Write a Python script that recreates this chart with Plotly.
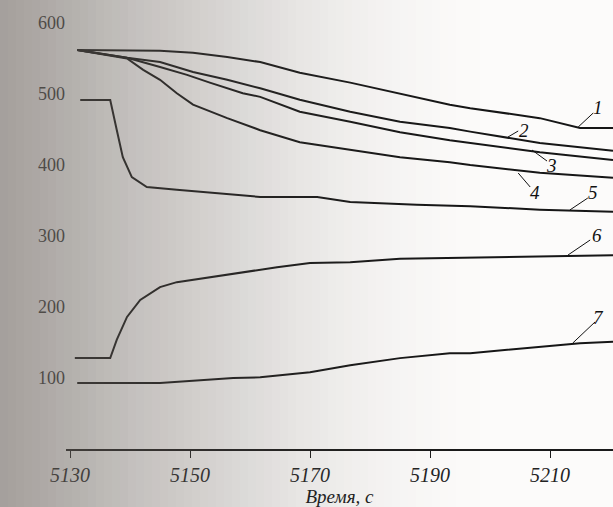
import plotly.graph_objects as go

# ---- data (time, s ; signal value) ----
t1 = [5131.2, 5139.5, 5145.0, 5150.5, 5156.2, 5161.7, 5168.3, 5176.7, 5185.0, 5193.3, 5196.7, 5208.3, 5215.0, 5220.5]
v1 = [562, 562, 561, 558, 552, 545, 530, 516, 501, 485, 480, 466, 452, 452]

t2 = [5131.2, 5139.5, 5145.0, 5150.5, 5156.2, 5161.7, 5168.3, 5176.7, 5185.0, 5193.3, 5196.7, 5208.3, 5220.5]
v2 = [562, 551, 545, 531, 520, 508, 492, 475, 461, 452, 447, 431, 420]

t3 = [5131.2, 5139.5, 5145.0, 5149.5, 5153.3, 5158.8, 5161.7, 5168.3, 5176.7, 5185.0, 5193.3, 5196.7, 5208.3, 5220.5]
v3 = [562, 551, 538, 527, 516, 501, 496, 475, 461, 446, 435, 431, 418, 407]

t4 = [5131.2, 5139.5, 5142.2, 5145.0, 5147.8, 5150.5, 5156.2, 5161.7, 5168.3, 5176.7, 5185.0, 5193.3, 5196.7, 5208.3, 5220.5]
v4 = [562, 550, 534, 520, 501, 485, 466, 449, 432, 421, 411, 404, 400, 389, 382]

t5 = [5131.7, 5136.7, 5137.8, 5138.8, 5140.3, 5142.8, 5147.8, 5153.3, 5161.7, 5171.2, 5176.7, 5187.8, 5196.7, 5208.3, 5220.5]
v5 = [491.5, 491.5, 449, 411, 383, 369, 365, 361, 355, 355, 348, 344, 342, 337, 334]

t6 = [5130.8, 5136.7, 5137.8, 5139.5, 5141.7, 5145.0, 5147.8, 5153.3, 5158.8, 5164.5, 5170.0, 5176.7, 5185.0, 5193.3, 5196.7, 5220.5]
v6 = [128, 128, 154, 186, 210, 228, 235, 242, 249, 256, 262, 263, 268, 269, 270, 273]

t7 = [5131.2, 5145.0, 5157.2, 5161.7, 5170.0, 5176.7, 5185.0, 5193.3, 5196.7, 5208.3, 5215.0, 5220.5]
v7 = [93, 93, 100, 101, 108, 118, 128, 135, 135, 144, 149, 151]

series_t = [t1, t2, t3, t4, t5, t6, t7]
series_v = [v1, v2, v3, v4, v5, v6, v7]

curve_labels = ["1", "2", "3", "4", "5", "6", "7"]
label_t = [5218.0, 5205.7, 5210.3, 5207.5, 5217.2, 5217.8, 5218.0]
label_v = [481.7, 449.3, 400.0, 360.6, 360.6, 301.4, 185.9]
leader_t0 = [5214.7, 5203.0, 5207.0, 5204.7, 5213.3, 5213.0, 5213.8]
leader_v0 = [453.5, 439.4, 421.1, 388.7, 336.6, 273.2, 149.3]
leader_t1 = [5217.2, 5204.7, 5209.5, 5206.7, 5216.3, 5216.7, 5217.5]
leader_v1 = [473.2, 447.9, 405.6, 369.0, 353.5, 294.4, 178.9]

x_ticks = [5130, 5150, 5170, 5190, 5210]
y_ticks = [100, 200, 300, 400, 500, 600]
x_title = "Время, с"

W, H = 613, 507
ML, MB = 66, 58

fig = go.Figure()
for t, v in zip(series_t, series_v):
    fig.add_trace(go.Scatter(x=t, y=v, mode="lines",
                             line=dict(color="#161616", width=2),
                             showlegend=False, hoverinfo="skip"))

serif = "Liberation Serif, DejaVu Serif, serif"
for lab, tx, vy in zip(curve_labels, label_t, label_v):
    fig.add_annotation(x=tx, y=vy, text=lab, showarrow=False,
                       font=dict(family=serif, size=19, color="#111", style="italic"))
shapes = []
for a, b, c, d in zip(leader_t0, leader_v0, leader_t1, leader_v1):
    shapes.append(dict(type="line", xref="x", yref="y", x0=a, y0=b, x1=c, y1=d,
                       line=dict(color="#111", width=1)))

# scanned-page shadow on the left side (overlay strips)
levels = [(0, 163), (50, 174), (100, 187), (150, 199), (200, 210), (250, 221),
          (300, 232), (350, 240), (400, 246), (450, 250), (500, 253)]
def lvl(px):
    for (xa, la), (xb, lb) in zip(levels[:-1], levels[1:]):
        if xa <= px <= xb:
            return la + (lb - la) * (px - xa) / (xb - xa)
    return 253
pw = W - ML
ph = H - MB
step = 8
for px in range(0, 500, step):
    L = lvl(px + step / 2)
    a = max(0.0, (252 - L) / 150.0)
    shapes.append(dict(type="rect", xref="paper", yref="paper", layer="above",
                       x0=(px - ML) / pw, x1=(px + step - ML) / pw,
                       y0=-MB / ph, y1=1.0,
                       fillcolor=f"rgba(104,97,91,{a:.3f})", line=dict(width=0)))

fig.update_layout(
    width=W, height=H,
    margin=dict(l=ML, r=0, t=0, b=MB),
    paper_bgcolor="#fcfbfa", plot_bgcolor="#fcfbfa",
    shapes=shapes,
    xaxis=dict(range=[5129.33, 5220.5], tickvals=x_ticks, ticktext=[str(v) for v in x_ticks],
               showgrid=False, zeroline=False, showline=True, linecolor="#1a1a1a", linewidth=1.5,
               ticks="outside", ticklen=7, tickwidth=1, tickcolor="#1a1a1a",
               tickfont=dict(family=serif, size=20, color="#222", style="italic"),
               title=dict(text=x_title, standoff=8,
                          font=dict(family=serif, size=19, color="#222", style="italic"))),
    yaxis=dict(range=[0, 632.4], tickvals=y_ticks, ticktext=[str(v) for v in y_ticks],
               showgrid=False, zeroline=False, showline=False, ticks="",
               tickfont=dict(family=serif, size=18, color="#333")),
)

fig.write_html("out.html", config={"displayModeBar": False},
               post_script="document.body.style.margin='0';document.body.style.overflow='hidden';")
